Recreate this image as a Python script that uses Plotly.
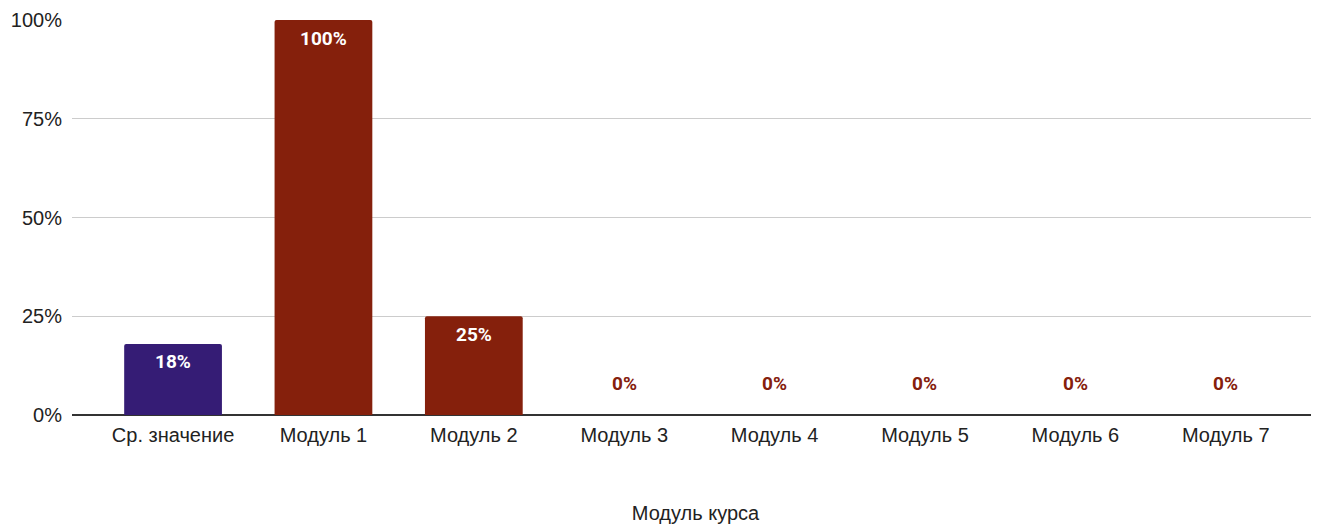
import plotly.graph_objects as go

# data
categories = ["Ср. значение", "Модуль 1", "Модуль 2", "Модуль 3",
              "Модуль 4", "Модуль 5", "Модуль 6", "Модуль 7"]
values = [0.18, 1.00, 0.25, 0.0, 0.0, 0.0, 0.0, 0.0]
y_ticks = [0, 0.25, 0.5, 0.75, 1.0]
y_tick_labels = ["0%", "25%", "50%", "75%", "100%"]

PURPLE = "#351c75"
RED = "#85200c"
colors = [PURPLE] + [RED] * (len(categories) - 1)

fig = go.Figure()
fig.add_trace(go.Bar(
    x=list(range(len(categories))),
    y=values,
    marker=dict(color=colors, line=dict(width=0)),
    width=0.65,
    hoverinfo="skip",
))

# value labels: inside the top of non-zero bars, above the baseline for zeros
annotations = []
for i, v in enumerate(values):
    if v > 0:
        annotations.append(dict(x=i, y=v, yshift=-18, text=f"{v:.0%}", showarrow=False,
                                font=dict(family="Roboto", size=19, color="white", weight="bold")))
    else:
        annotations.append(dict(x=i, y=v, yshift=32, text=f"{v:.0%}", showarrow=False,
                                font=dict(family="Roboto", size=19, color=RED, weight="bold")))

# the page body adds an 8px margin, so the figure is sized to fit the window
fig.update_layout(
    template=None,
    width=1311, height=516,
    paper_bgcolor="white",
    plot_bgcolor="white",
    margin=dict(l=64, r=0, t=12, b=109),
    font=dict(family="Liberation Sans, Arial, sans-serif", size=20, color="#222222"),
    showlegend=False,
    barcornerradius=2,
    annotations=annotations,
    xaxis=dict(
        range=[-0.672, 7.62],
        tickmode="array",
        tickvals=list(range(len(categories))),
        ticktext=categories,
        showgrid=False,
        zeroline=False,
        showline=False,
        ticks="outside",
        ticklen=2,
        tickcolor="rgba(0,0,0,0)",
        tickfont=dict(size=20, color="#222222"),
        title=dict(text="Модуль курса", standoff=62, font=dict(size=20, color="#222222")),
    ),
    yaxis=dict(
        range=[0, 1.0],
        tickmode="array",
        tickvals=y_ticks,
        ticktext=y_tick_labels,
        showgrid=True,
        gridcolor="#cccccc",
        gridwidth=1,
        zeroline=True,
        zerolinecolor="#333333",
        zerolinewidth=1.5,
        ticks="outside",
        ticklen=5,
        tickcolor="rgba(0,0,0,0)",
        tickfont=dict(size=20, color="#222222"),
    ),
)

fig.write_html("out.html")
